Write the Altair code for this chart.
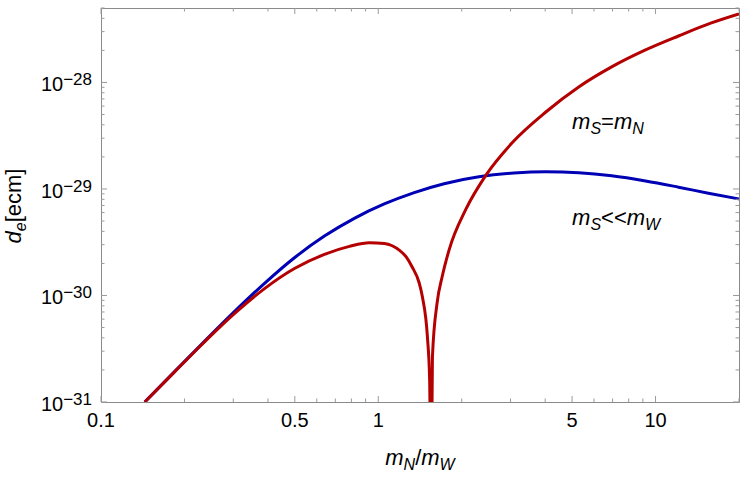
import altair as alt
import pandas as pd

# ---------------- data ----------------
x_blue = [0.1439, 0.1846, 0.2366, 0.3034, 0.3889, 0.4985, 0.6393, 0.8198, 1.051,
          1.348, 1.728, 2.308, 3.085, 4.021, 5.284, 6.946, 9.204, 12.10, 15.51, 20.0]
de_blue = [1.00e-31, 1.94e-31, 3.73e-31, 7.09e-31, 1.30e-30, 2.26e-30, 3.61e-30,
           5.30e-30, 7.23e-30, 9.25e-30, 1.12e-29, 1.30e-29, 1.41e-29, 1.45e-29,
           1.42e-29, 1.33e-29, 1.19e-29, 1.04e-29, 9.13e-30, 8.06e-30]

x_red = [0.1439, 0.1846, 0.2366, 0.3034, 0.3889, 0.4985, 0.6393, 0.7866, 0.9282,
         1.051, 1.123, 1.190, 1.261, 1.325, 1.405, 1.443, 1.504, 1.532, 1.551,
         1.568, 1.630, 1.699, 1.800, 2.073, 2.446, 3.034, 4.021, 5.284, 6.946,
         9.204, 12.10, 15.90, 20.0]
de_red = [1.00e-31, 1.93e-31, 3.68e-31, 6.78e-31, 1.16e-30, 1.79e-30, 2.43e-30,
          2.89e-30, 3.13e-30, 3.08e-30, 2.93e-30, 2.67e-30, 2.30e-30, 1.85e-30,
          1.31e-30, 9.68e-31, 4.08e-31, 1.64e-31, 1.0e-32, 2.65e-31, 8.51e-31,
          1.49e-30, 2.67e-30, 6.49e-30, 1.35e-29, 2.70e-29, 5.28e-29, 9.07e-29,
          1.40e-28, 2.02e-28, 2.73e-28, 3.62e-28, 4.40e-28]

x_major_ticks = [0.1, 0.5, 1, 5, 10]
x_tick_labels = ["0.1", "0.5", "1", "5", "10"]
x_minor_ticks = [0.2, 0.3, 0.4, 0.6, 0.7, 0.8, 0.9, 2, 3, 4, 6, 7, 8, 9, 20]

y_major_ticks = [1e-31, 1e-30, 1e-29, 1e-28]
y_tick_exponents = ["\u221231", "\u221230", "\u221229", "\u221228"]
y_minor_ticks = [k * 10.0 ** e for e in (-31, -30, -29) for k in range(2, 10)] + \
                [2e-28, 3e-28, 4e-28, 5e-28]

label_x = [5.0, 5.0]
label_y = [3.66e-29, 4.59e-30]

# ---------------- layout / style ----------------
W, H = 638, 394
FONT = "Liberation Sans"
BLUE, RED = "#0000b4", "#b40000"
FRAME = "#8a8a8a"
TICKC = "#9a9a9a"
MAJ, MIN = 6, 3.5

xs = alt.Scale(type="log", domain=[0.1, 20], nice=False)
ys = alt.Scale(type="log", domain=[1e-31, 5e-28], nice=False)

ADV = {'m': 0.833, 'S': 0.667, 'N': 0.722, 'W': 0.944, '=': 0.584, '<': 0.584,
       '/': 0.278, 'd': 0.556, 'e': 0.556, '[': 0.278, ']': 0.278, 'c': 0.5,
       '0': 0.556, '1': 0.556, '2': 0.556, '3': 0.556, '8': 0.556, '9': 0.556,
       '\u2212': 0.584}


def tw(s, size):
    return sum(ADV.get(c, 0.556) for c in s) * size


X = lambda: alt.X("x:Q", scale=xs, axis=None)
Y = lambda: alt.Y("y:Q", scale=ys, axis=None)

curves = pd.DataFrame({
    "x": x_blue + x_red,
    "y": de_blue + de_red,
    "s": ["a"] * len(x_blue) + ["b"] * len(x_red),
})
lines = alt.Chart(curves).mark_line(strokeWidth=3, clip=True, interpolate="monotone").encode(
    x=X(), y=Y(),
    color=alt.Color("s:N", scale=alt.Scale(domain=["a", "b"], range=[BLUE, RED]), legend=None),
)

layers = [lines]

# ticks on all four sides, pointing inward
for vals, ln in ((x_major_ticks, MAJ), (x_minor_ticks, MIN)):
    df = pd.DataFrame({"x": vals})
    layers.append(alt.Chart(df).mark_rule(color=TICKC, strokeWidth=1).encode(
        x=X(), y=alt.value(H), y2=alt.value(H - ln)))
    layers.append(alt.Chart(df).mark_rule(color=TICKC, strokeWidth=1).encode(
        x=X(), y=alt.value(0), y2=alt.value(ln)))
for vals, ln in ((y_major_ticks, MAJ), (y_minor_ticks, MIN)):
    df = pd.DataFrame({"y": vals})
    layers.append(alt.Chart(df).mark_rule(color=TICKC, strokeWidth=1).encode(
        y=Y(), x=alt.value(0), x2=alt.value(ln)))
    layers.append(alt.Chart(df).mark_rule(color=TICKC, strokeWidth=1).encode(
        y=Y(), x=alt.value(W), x2=alt.value(W - ln)))

# x tick labels
layers.append(alt.Chart(pd.DataFrame({"x": x_major_ticks, "t": x_tick_labels})).mark_text(
    font=FONT, fontSize=20, align="center", baseline="top", color="black").encode(
    x=X(), y=alt.value(H + 9), text="t:N"))

# y tick labels 10^exp
EXP_SIZE, BASE_SIZE = 17, 20
ydf = pd.DataFrame({"y": y_major_ticks, "e": y_tick_exponents, "b": ["10"] * 4})
layers.append(alt.Chart(ydf).mark_text(
    font=FONT, fontSize=EXP_SIZE, align="right", baseline="alphabetic", dy=3, color="black").encode(
    y=Y(), x=alt.value(-9), text="e:N"))
layers.append(alt.Chart(ydf).mark_text(
    font=FONT, fontSize=BASE_SIZE, align="right", baseline="alphabetic", dy=9, color="black").encode(
    y=Y(), x=alt.value(-9 - tw("\u221228", EXP_SIZE)), text="b:N"))

# rich (subscripted) texts
BS, SS, SUB = 22, 16, 5


def rich_data(xv, yv, segs):
    df = pd.DataFrame({"x": [xv], "y": [yv]})
    off = 0
    out = []
    for txt, size, style, sh in segs:
        out.append(alt.Chart(df).mark_text(
            text=txt, font=FONT, fontSize=size, fontStyle=style, align="left",
            baseline="alphabetic", dx=off, dy=sh, color="black").encode(x=X(), y=Y()))
        off += tw(txt, size)
    return out


lab1 = [("m", BS, "italic", 0), ("S", SS, "italic", SUB), ("=", BS, "normal", 0),
        ("m", BS, "italic", 0), ("N", SS, "italic", SUB)]
lab2 = [("m", BS, "italic", 0), ("S", SS, "italic", SUB), ("<<", BS, "normal", 0),
        ("m", BS, "italic", 0), ("W", SS, "italic", SUB)]
layers += rich_data(label_x[0], label_y[0], lab1)
layers += rich_data(label_x[1], label_y[1], lab2)

# x axis title m_N/m_W
xt = [("m", BS, "italic", 0), ("N", SS, "italic", SUB), ("/", BS, "normal", 0),
      ("m", BS, "italic", 0), ("W", SS, "italic", SUB)]
total = sum(tw(t, s) for t, s, _, _ in xt)
off = W / 2 - total / 2
for txt, size, style, sh in xt:
    layers.append(alt.Chart(pd.DataFrame({"x": [1]})).mark_text(
        text=txt, font=FONT, fontSize=size, fontStyle=style, align="left",
        baseline="alphabetic", color="black").encode(
        x=alt.value(off), y=alt.value(H + 63 + sh)))
    off += tw(txt, size)

# y axis title d_e[ecm] (rotated)
yt = [("d", BS, "italic", 0), ("e", SS, "italic", SUB), ("[ecm]", BS, "normal", 0)]
total = sum(tw(t, s) for t, s, _, _ in yt)
pos = 198 + total / 2
for txt, size, style, sh in yt:
    layers.append(alt.Chart(pd.DataFrame({"x": [1]})).mark_text(
        text=txt, font=FONT, fontSize=size, fontStyle=style, align="left",
        baseline="alphabetic", angle=270, color="black").encode(
        x=alt.value(-80 + sh), y=alt.value(pos)))
    pos -= tw(txt, size)

chart = alt.layer(*layers).properties(
    width=W, height=H,
    padding={"left": 101, "top": 8, "right": 11, "bottom": 76},
    autosize=alt.AutoSizeParams(type="none"),
    background="white",
).configure_view(stroke=FRAME, strokeWidth=1)

chart.save("out.html", embed_options={"renderer": "svg", "actions": False})
